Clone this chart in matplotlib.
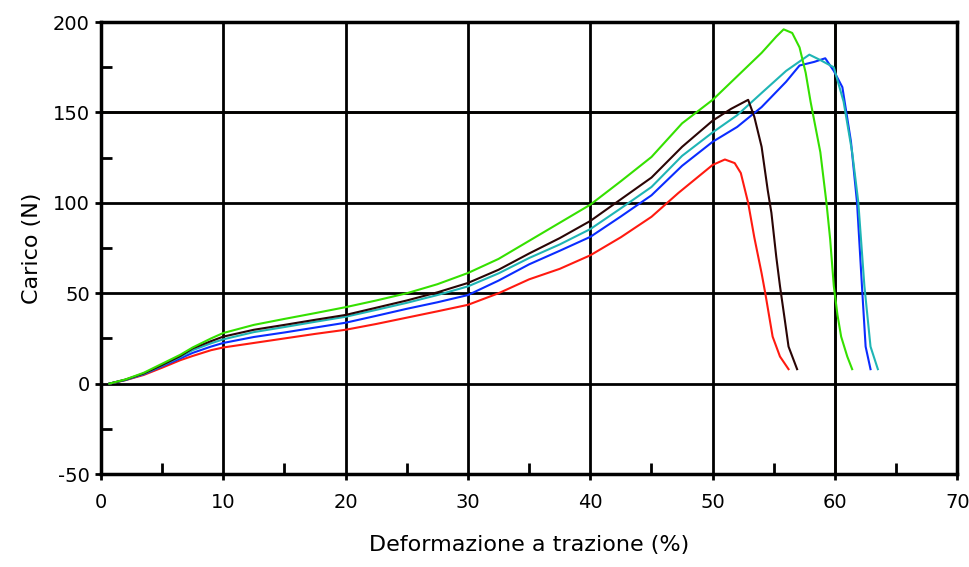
import matplotlib.pyplot as plt
from matplotlib.ticker import MultipleLocator

plt.rcParams['axes.unicode_minus'] = False

# valori: deformazione (%) e carico (N)
green_x = [0.7, 2, 3.5, 5, 6.5, 7.5, 9, 10, 12.5, 15, 17.5, 20, 22.5, 25, 27.5, 30, 32.5, 35, 37.5, 40,
           42.5, 45, 47.5, 50, 52, 54, 55.2, 55.8, 56.5, 57.1, 57.6, 58, 58.8, 59.3, 59.6, 59.9, 60.2, 60.5, 61, 61.4]
green_y = [0, 2.3, 6, 11, 16, 20, 25, 28, 32.5, 35.8, 39, 42.3, 46, 50, 55, 61.2, 69, 79, 89, 99,
           112, 125.4, 144, 157, 170, 183, 192, 196, 194, 186, 172, 156, 128, 100, 80, 54, 38, 26, 15, 8]

black_x = [0.7, 2, 3.5, 5, 6.5, 7.5, 9, 10, 12.5, 15, 17.5, 20, 22.5, 25, 27.5, 30, 32.5, 35, 37.5, 40,
           42.5, 45, 47.5, 50, 51.5, 52.9, 53.4, 54, 54.5, 54.8, 55.2, 55.5, 55.9, 56.2, 56.9]
black_y = [0, 2.2, 5.6, 10.3, 15.3, 19.5, 23.5, 26, 29.8, 32.5, 35.3, 38, 42, 46, 50.5, 55.7, 63, 72, 80.5, 90,
           102, 114, 131, 145.5, 152, 157, 147.7, 131, 107, 94.5, 70, 54, 35, 20.5, 8]

cyan_x = [0.7, 2, 3.5, 5, 6.5, 7.5, 9, 10, 12.5, 15, 17.5, 20, 22.5, 25, 27.5, 30, 32.5, 35, 37.5, 40,
          42.5, 45, 47.5, 50, 52, 54, 56, 57.9, 58.8, 59.9, 60.7, 61.4, 61.9, 62.4, 62.9, 63.5]
cyan_y = [0, 2.1, 5.4, 10, 14.8, 18.5, 22.3, 24.5, 28.5, 31.3, 34.2, 37, 40.8, 44.7, 49, 53.8, 61, 69.5, 77, 85.5,
          97, 108.8, 126, 139, 148.5, 160.8, 173, 182, 179, 175, 156, 128, 100.5, 54, 20.5, 8]

blue_x = [0.7, 2, 3.5, 5, 6.5, 7.5, 9, 10, 12.5, 15, 17.5, 20, 22.5, 25, 27.5, 30, 32.5, 35, 37.5, 40,
          42.5, 45, 47.5, 50, 52, 54, 56, 57.1, 58.3, 59.2, 59.9, 60.6, 61.3, 61.8, 62.2, 62.5, 62.9]
blue_y = [0, 2, 5.2, 9.6, 14, 17, 20.5, 22.5, 25.8, 28.3, 31, 33.7, 37.5, 41.4, 45, 49, 57, 66, 73.5, 81.2,
          92.5, 104.2, 120.5, 133.8, 142, 153, 167, 176, 178, 180, 173, 164, 134, 100, 54, 20.5, 8]

red_x = [0.7, 2, 3.5, 5, 6.5, 7.5, 9, 10, 12.5, 15, 17.5, 20, 22.5, 25, 27.5, 30, 32.5, 35, 37.5, 40,
         42.5, 45, 47.2, 48.5, 50, 51, 51.8, 52.3, 52.9, 53.4, 54, 54.3, 54.9, 55.5, 56.2]
red_y = [0, 1.9, 4.8, 8.8, 13, 15.3, 18.5, 20, 22.5, 25, 27.5, 29.8, 33, 36.5, 40, 43.6, 50, 57.7, 63.5, 71,
         81, 92.3, 105.5, 112.7, 121, 124, 122, 116.5, 100, 81, 61, 50, 26, 15, 8]

series = [
    (red_x, red_y, "#ff1a10"),
    (blue_x, blue_y, "#0a2cff"),
    (cyan_x, cyan_y, "#1fb5b5"),
    (black_x, black_y, "#2a0505"),
    (green_x, green_y, "#35e000"),
]

fig = plt.figure(figsize=(9.7, 5.67), dpi=100)
ax = fig.add_axes([0.104, 0.164, 0.883, 0.797])

for xs, ys, col in series:
    ax.plot(xs, ys, color=col, lw=1.5, zorder=3)

ax.set_xlim(0, 70)
ax.set_ylim(-50, 200)
ax.xaxis.set_major_locator(MultipleLocator(10))
ax.yaxis.set_major_locator(MultipleLocator(50))
ax.xaxis.set_minor_locator(MultipleLocator(5))
ax.yaxis.set_minor_locator(MultipleLocator(25))

ax.grid(which="major", color="black", lw=2, zorder=1)
# due linee della griglia sono color oliva nell'originale
ax.axhline(150, color="#4d4828", lw=2, zorder=1.5)
ax.axvline(60, color="#4d4828", lw=2, zorder=1.5)
for sp in ax.spines.values():
    sp.set_linewidth(2.5)

ax.tick_params(which="major", direction="out", length=4, width=2, labelsize=14, pad=10)
ax.tick_params(axis="y", which="major", pad=4)
ax.tick_params(which="minor", direction="in", length=8, width=2)

ax.set_xlabel("Deformazione a trazione (%)", fontsize=16, labelpad=16)
ax.set_ylabel("Carico (N)", fontsize=16, labelpad=8)

fig.savefig("out.png", dpi=100)
